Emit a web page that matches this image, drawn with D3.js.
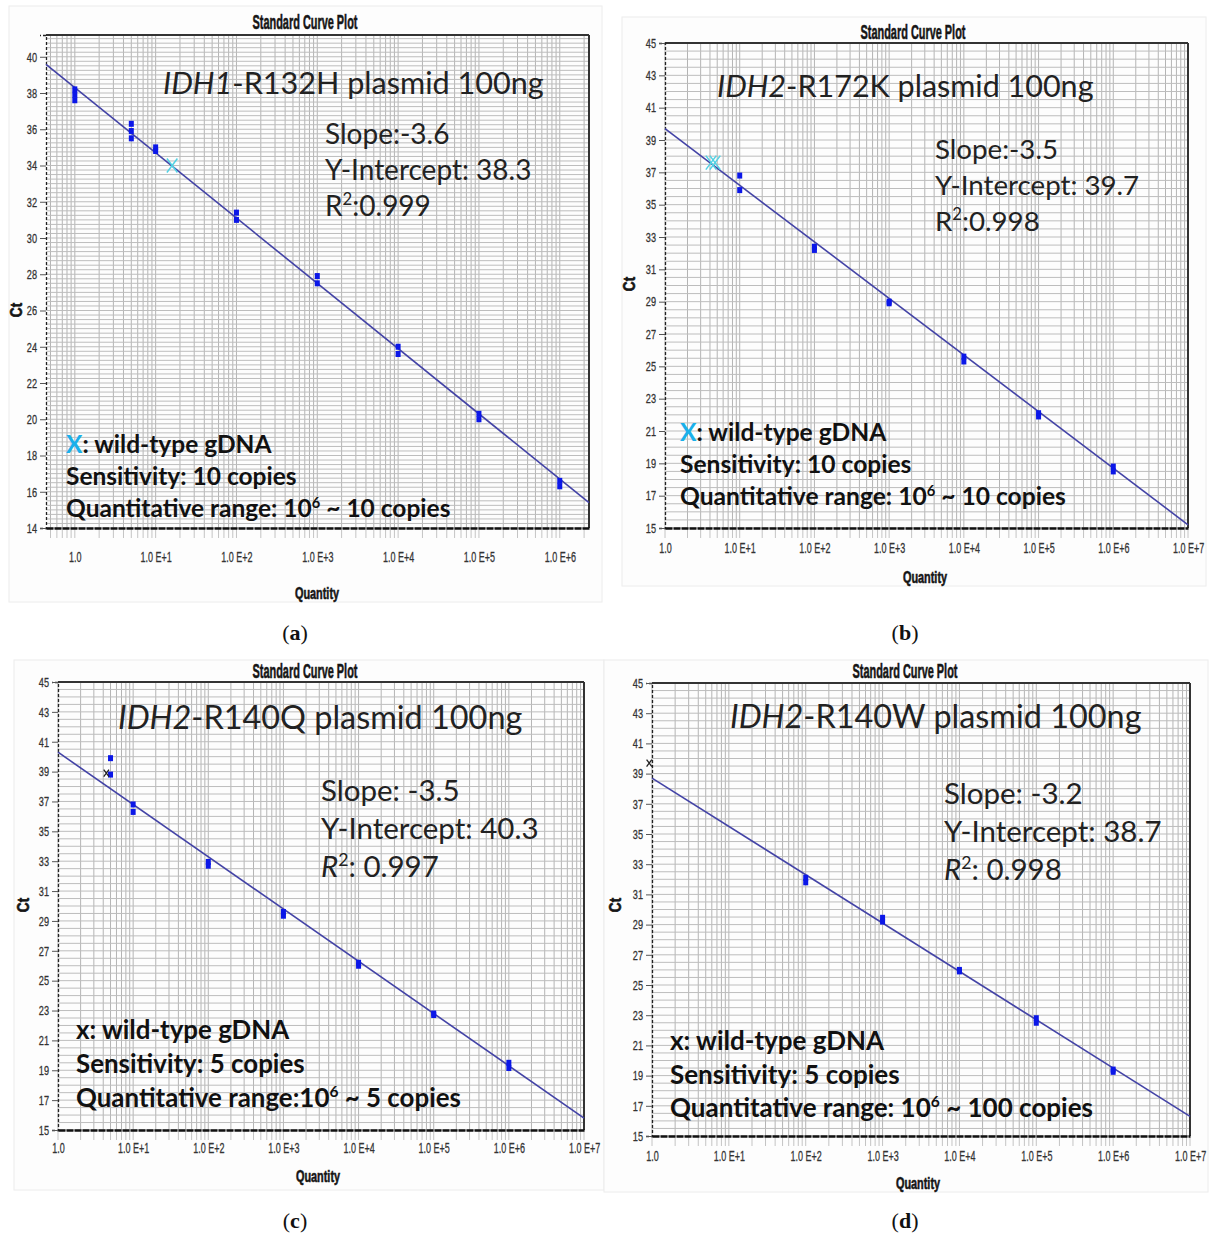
<!DOCTYPE html>
<html>
<head>
<meta charset="utf-8">
<script src="https://d3js.org/d3.v7.min.js"></script>
<style>
  body { margin: 0; background: #fff; }
  .narrow { font-family: "Liberation Sans", Arial, sans-serif; }
  .note { font-family: Lato, "Open Sans", sans-serif; }
</style>
</head>
<body>
<svg width="1211" height="1234"></svg>
<script>
// values
var panelLetters = ["a", "b", "c", "d"];
var geneNames = ["IDH1", "IDH2", "IDH2", "IDH2"];
var assayNames = ["-R132H plasmid 100ng", "-R172K plasmid 100ng", "-R140Q plasmid 100ng", "-R140W plasmid 100ng"];
var slopes = [-3.6, -3.5, -3.5, -3.2];
var intercepts = [38.3, 39.7, 40.3, 38.7];
var slopeLabels = ["Slope:-3.6", "Slope:-3.5", "Slope: -3.5", "Slope: -3.2"];
var interceptLabels = ["Y-Intercept: 38.3", "Y-Intercept: 39.7", "Y-Intercept: 40.3", "Y-Intercept: 38.7"];
var r2Labels = [":0.999", ":0.998", ": 0.997", ": 0.998"];
var wildTypeLabels = ["X", "X", "x", "x"];
var sensitivityLabels = ["Sensitivity: 10 copies", "Sensitivity: 10 copies", "Sensitivity: 5 copies", "Sensitivity: 5 copies"];
var rangeStarts = ["Quantitative range: 10", "Quantitative range: 10", "Quantitative range:10", "Quantitative range: 10"];
var rangeEnds = [" ~ 10 copies", " ~ 10 copies", " ~ 5 copies", " ~ 100 copies"];

var xDomains = [[0.44, 2.3e6], [1, 1e7], [1, 1e7], [1, 1e7]];
var yDomains = [[14, 41.2], [15, 45], [15, 45], [15, 45]];
var xTickValues = [1, 1e1, 1e2, 1e3, 1e4, 1e5, 1e6, 1e7];
var xTickLabels = ["1.0", "1.0 E+1", "1.0 E+2", "1.0 E+3", "1.0 E+4", "1.0 E+5", "1.0 E+6", "1.0 E+7"];
var yTicksA = [14, 16, 18, 20, 22, 24, 26, 28, 30, 32, 34, 36, 38, 40];
var yTicksBCD = [15, 17, 19, 21, 23, 25, 27, 29, 31, 33, 35, 37, 39, 41, 43, 45];

// [quantity, Ct]
var standardsA = [[1, 38.2], [1, 37.9], [1, 37.6], [5, 36.3], [5, 35.9], [5, 35.5], [10, 35.0], [10, 34.8],
                  [100, 31.4], [100, 31.0], [1e3, 27.9], [1e3, 27.5], [1e4, 24.0], [1e4, 23.6],
                  [1e5, 20.3], [1e5, 20.0], [1e6, 16.6], [1e6, 16.3]];
var standardsB = [[10, 36.8], [10, 35.9], [100, 32.4], [100, 32.2], [1e3, 29.0], [1e3, 28.9],
                  [1e4, 25.6], [1e4, 25.3], [1e5, 22.1], [1e5, 21.9], [1e6, 18.8], [1e6, 18.5]];
var standardsC = [[5, 39.9], [5, 38.8], [10, 36.8], [10, 36.3], [100, 32.95], [100, 32.7],
                  [1e3, 29.6], [1e3, 29.35], [1e4, 26.2], [1e4, 26.0], [1e5, 22.8], [1e5, 22.7],
                  [1e6, 19.5], [1e6, 19.15]];
var standardsD = [[100, 32.1], [100, 31.8], [1e3, 29.45], [1e3, 29.2], [1e4, 26.0], [1e4, 25.9],
                  [1e5, 22.8], [1e5, 22.5], [1e6, 19.4], [1e6, 19.25]];
var wildTypeA = [16, 34.0];
var wildTypeB = [4.4, 37.6];
var wildTypeC = [4.4, 38.9];
var wildTypeD = [0.92, 39.7];

var svg = d3.select("svg");

var panels = [
  { data: standardsA, wt: wildTypeA, yTicks: yTicksA, gridStep: 0.25, ticks: 7,
    box: [9, 6, 602, 602], left: 46, right: 589, top: 35, bottom: 528, pad: 23,
    title: [305, 29], quantity: [317, 599], ct: [22, 310],
    head: [163, 94, 30.6], stats: [325, 144, 36, 28], foot: [66, 453, 32, 24.5], cap: [295, 640] },
  { data: standardsB, wt: wildTypeB, yTicks: yTicksBCD, gridStep: 0.5, ticks: 8,
    box: [622, 17, 1206, 586], left: 665, right: 1188, top: 43, bottom: 528, pad: 14,
    title: [913, 39], quantity: [925, 583], ct: [635, 284],
    head: [717, 97, 30.5], stats: [935, 159, 36, 27.7], foot: [680, 441, 32, 24.6], cap: [905, 640] },
  { data: standardsC, wt: wildTypeC, yTicks: yTicksBCD, gridStep: 0.5, ticks: 8,
    box: [14, 660, 604, 1190], left: 58, right: 584, top: 682, bottom: 1130, pad: 12,
    title: [305, 678], quantity: [318, 1182], ct: [29, 905],
    head: [118, 729, 32.4], stats: [321, 801, 38, 29.5], foot: [76, 1039, 34, 25.9], cap: [295, 1228] },
  { data: standardsD, wt: wildTypeD, yTicks: yTicksBCD, gridStep: 0.5, ticks: 8,
    box: [604, 660, 1208, 1192], left: 652, right: 1190, top: 683, bottom: 1136, pad: 14,
    title: [905, 678], quantity: [918, 1189], ct: [621, 905],
    head: [730, 728, 32.4], stats: [944, 804, 38, 29.5], foot: [670, 1050, 33.5, 26], cap: [905, 1228] }
];

// squeezed heavy text, like the instrument software
function narrowText(g, x, y, size, sx, rotate, str) {
  return g.append("text").attr("class", "narrow")
    .attr("transform", "translate(" + x + "," + y + ")" + (rotate ? " rotate(-90)" : "") + " scale(" + sx + ",1)")
    .attr("text-anchor", "middle").attr("font-size", size).attr("font-weight", "bold")
    .attr("fill", "#151515").attr("stroke", "#151515").attr("stroke-width", 0.6)
    .text(str);
}

panels.forEach(function(p, i) {
  var x = d3.scaleLog().domain(xDomains[i]).range([p.left, p.right]);
  var y = d3.scaleLinear().domain(yDomains[i]).range([p.bottom, p.top]);
  var g = svg.append("g");

  // screenshot window behind each plot
  g.append("rect")
    .attr("x", p.box[0]).attr("y", p.box[1])
    .attr("width", p.box[2] - p.box[0]).attr("height", p.box[3] - p.box[1])
    .attr("fill", "#fdfdfd").attr("stroke", "#ececec");

  // log grid (vertical)
  var vLines = [];
  for (var k = -1; k <= 7; k++) {
    for (var m = 1; m <= 9; m++) {
      var v = m * Math.pow(10, k);
      if (v >= xDomains[i][0] && v <= xDomains[i][1]) vLines.push(v);
    }
  }
  g.selectAll(".vgrid").data(vLines).enter().append("line")
    .attr("x1", function(d) { return x(d); }).attr("x2", function(d) { return x(d); })
    .attr("y1", p.top).attr("y2", p.bottom)
    .attr("stroke", "#b4b4b4").attr("stroke-width", 1);

  // minor ticks below the x axis
  g.selectAll(".vtick").data(vLines).enter().append("line")
    .attr("x1", function(d) { return x(d); }).attr("x2", function(d) { return x(d); })
    .attr("y1", p.bottom).attr("y2", p.bottom + 10)
    .attr("stroke", "#c4c4c4").attr("stroke-width", 1);

  // horizontal grid
  var hLines = d3.range(yDomains[i][0], yDomains[i][1] + 0.001, p.gridStep);
  g.selectAll(".hgrid").data(hLines).enter().append("line")
    .attr("x1", p.left).attr("x2", p.right)
    .attr("y1", function(d) { return y(d); }).attr("y2", function(d) { return y(d); })
    .attr("stroke", "#bdbdbd").attr("stroke-width", 1);

  // frame
  g.append("line").attr("x1", p.left).attr("x2", p.right).attr("y1", p.top).attr("y2", p.top)
    .attr("stroke", "#333").attr("stroke-width", 2);
  g.append("line").attr("x1", p.right).attr("x2", p.right).attr("y1", p.top).attr("y2", p.bottom)
    .attr("stroke", "#333").attr("stroke-width", 2);

  // axes
  var sy = 0.68, sxTick = 0.6;
  var yAxis = g.append("g")
    .attr("transform", "translate(" + p.left + ",0)")
    .call(d3.axisLeft(y).tickValues(p.yTicks).tickSize(6).tickPadding(3).tickFormat(d3.format("d")));
  yAxis.select(".domain").attr("stroke", "#222").attr("stroke-dasharray", "3,2").attr("stroke-width", 1.3);
  yAxis.selectAll(".tick line").attr("stroke", "#555");
  yAxis.selectAll(".tick text").attr("class", "narrow").attr("font-size", 13.5).attr("fill", "#333")
    .attr("stroke", "#333").attr("stroke-width", 0.3)
    .attr("x", -9 / sy).attr("transform", "scale(" + sy + ",1)");

  var xAxis = g.append("g")
    .attr("transform", "translate(0," + p.bottom + ")")
    .call(d3.axisBottom(x).tickValues(xTickValues.slice(0, p.ticks)).tickSize(0).tickPadding(p.pad)
      .tickFormat(function(d, j) { return xTickLabels[j]; }));
  xAxis.select(".domain").attr("stroke", "#111").attr("stroke-width", 2.5).attr("stroke-dasharray", "7,1");
  xAxis.selectAll(".tick text").attr("class", "narrow").attr("font-size", 15).attr("fill", "#333")
    .attr("stroke", "#333").attr("stroke-width", 0.3)
    .attr("transform", "scale(" + sxTick + ",1)");

  // standard curve fit
  var fit = d3.line()
    .x(function(d) { return x(d); })
    .y(function(d) { return y(intercepts[i] + slopes[i] * Math.log10(d)); });
  g.append("path").datum(xDomains[i])
    .attr("d", fit)
    .attr("fill", "none").attr("stroke", "#4343a6").attr("stroke-width", 1.6);

  // standards
  g.selectAll(".pt").data(p.data).enter().append("rect")
    .attr("x", function(d) { return x(d[0]) - 2.5; })
    .attr("y", function(d) { return y(d[1]) - 3; })
    .attr("width", 5).attr("height", 6)
    .attr("fill", "#0b17e8");

  // wild-type gDNA marker
  var wx = x(p.wt[0]), wy = y(p.wt[1]);
  var cyan = i < 2;
  var offsets = i === 1 ? [-2, 2] : [0];
  offsets.forEach(function(o) {
    var s = cyan ? 7 : 3.5;
    g.append("path")
      .attr("d", "M" + (wx + o - s * 0.75) + "," + (wy - s) + "L" + (wx + o + s * 0.75) + "," + (wy + s) +
                 "M" + (wx + o + s * 0.75) + "," + (wy - s) + "L" + (wx + o - s * 0.75) + "," + (wy + s))
      .attr("stroke", cyan ? "#52d2e4" : "#222").attr("stroke-width", cyan ? 1.5 : 1.3)
      .attr("fill", "none");
  });

  // labels
  narrowText(g, p.title[0], p.title[1], 21, 0.52, false, "Standard Curve Plot");
  narrowText(g, p.quantity[0], p.quantity[1], 17, 0.64, false, "Quantity");
  narrowText(g, p.ct[0], p.ct[1], 16, 0.85, true, "Ct");

  var head = g.append("text").attr("class", "note").attr("x", p.head[0]).attr("y", p.head[1])
    .attr("font-size", p.head[2]).attr("fill", "#222");
  head.append("tspan").attr("font-style", "italic").text(geneNames[i]);
  head.append("tspan").text(assayNames[i]);

  [slopeLabels[i], interceptLabels[i]].forEach(function(t, j) {
    g.append("text").attr("class", "note").attr("x", p.stats[0]).attr("y", p.stats[1] + j * p.stats[2])
      .attr("font-size", p.stats[3]).attr("fill", "#222").text(t);
  });
  var r2 = g.append("text").attr("class", "note").attr("x", p.stats[0]).attr("y", p.stats[1] + 2 * p.stats[2])
    .attr("font-size", p.stats[3]).attr("fill", "#222");
  r2.append("tspan").attr("font-style", i >= 2 ? "italic" : "normal").text("R");
  r2.append("tspan").attr("font-size", p.stats[3] * 0.6).attr("dy", -p.stats[3] * 0.38).text("2");
  r2.append("tspan").attr("dy", p.stats[3] * 0.38).text(r2Labels[i]);

  var f = p.foot;
  var wt = g.append("text").attr("class", "note").attr("x", f[0]).attr("y", f[1])
    .attr("font-size", f[3]).attr("font-weight", "bold").attr("fill", "#111");
  wt.append("tspan").attr("fill", cyan ? "#1ab0ea" : "#111").text(wildTypeLabels[i]);
  wt.append("tspan").text(": wild-type gDNA");
  g.append("text").attr("class", "note").attr("x", f[0]).attr("y", f[1] + f[2])
    .attr("font-size", f[3]).attr("font-weight", "bold").attr("fill", "#111").text(sensitivityLabels[i]);
  var rg = g.append("text").attr("class", "note").attr("x", f[0]).attr("y", f[1] + 2 * f[2])
    .attr("font-size", f[3]).attr("font-weight", "bold").attr("fill", "#111");
  rg.append("tspan").text(rangeStarts[i]);
  rg.append("tspan").attr("font-size", f[3] * 0.6).attr("dy", -f[3] * 0.38).text("6");
  rg.append("tspan").attr("dy", f[3] * 0.38).text(rangeEnds[i]);

  // panel caption
  var cap = svg.append("text").attr("x", p.cap[0]).attr("y", p.cap[1]).attr("text-anchor", "middle")
    .attr("font-family", "Liberation Serif, serif").attr("font-size", 22).attr("fill", "#111");
  cap.append("tspan").text("(");
  cap.append("tspan").attr("font-weight", "bold").text(panelLetters[i]);
  cap.append("tspan").text(")");
});
</script>
</body>
</html>
